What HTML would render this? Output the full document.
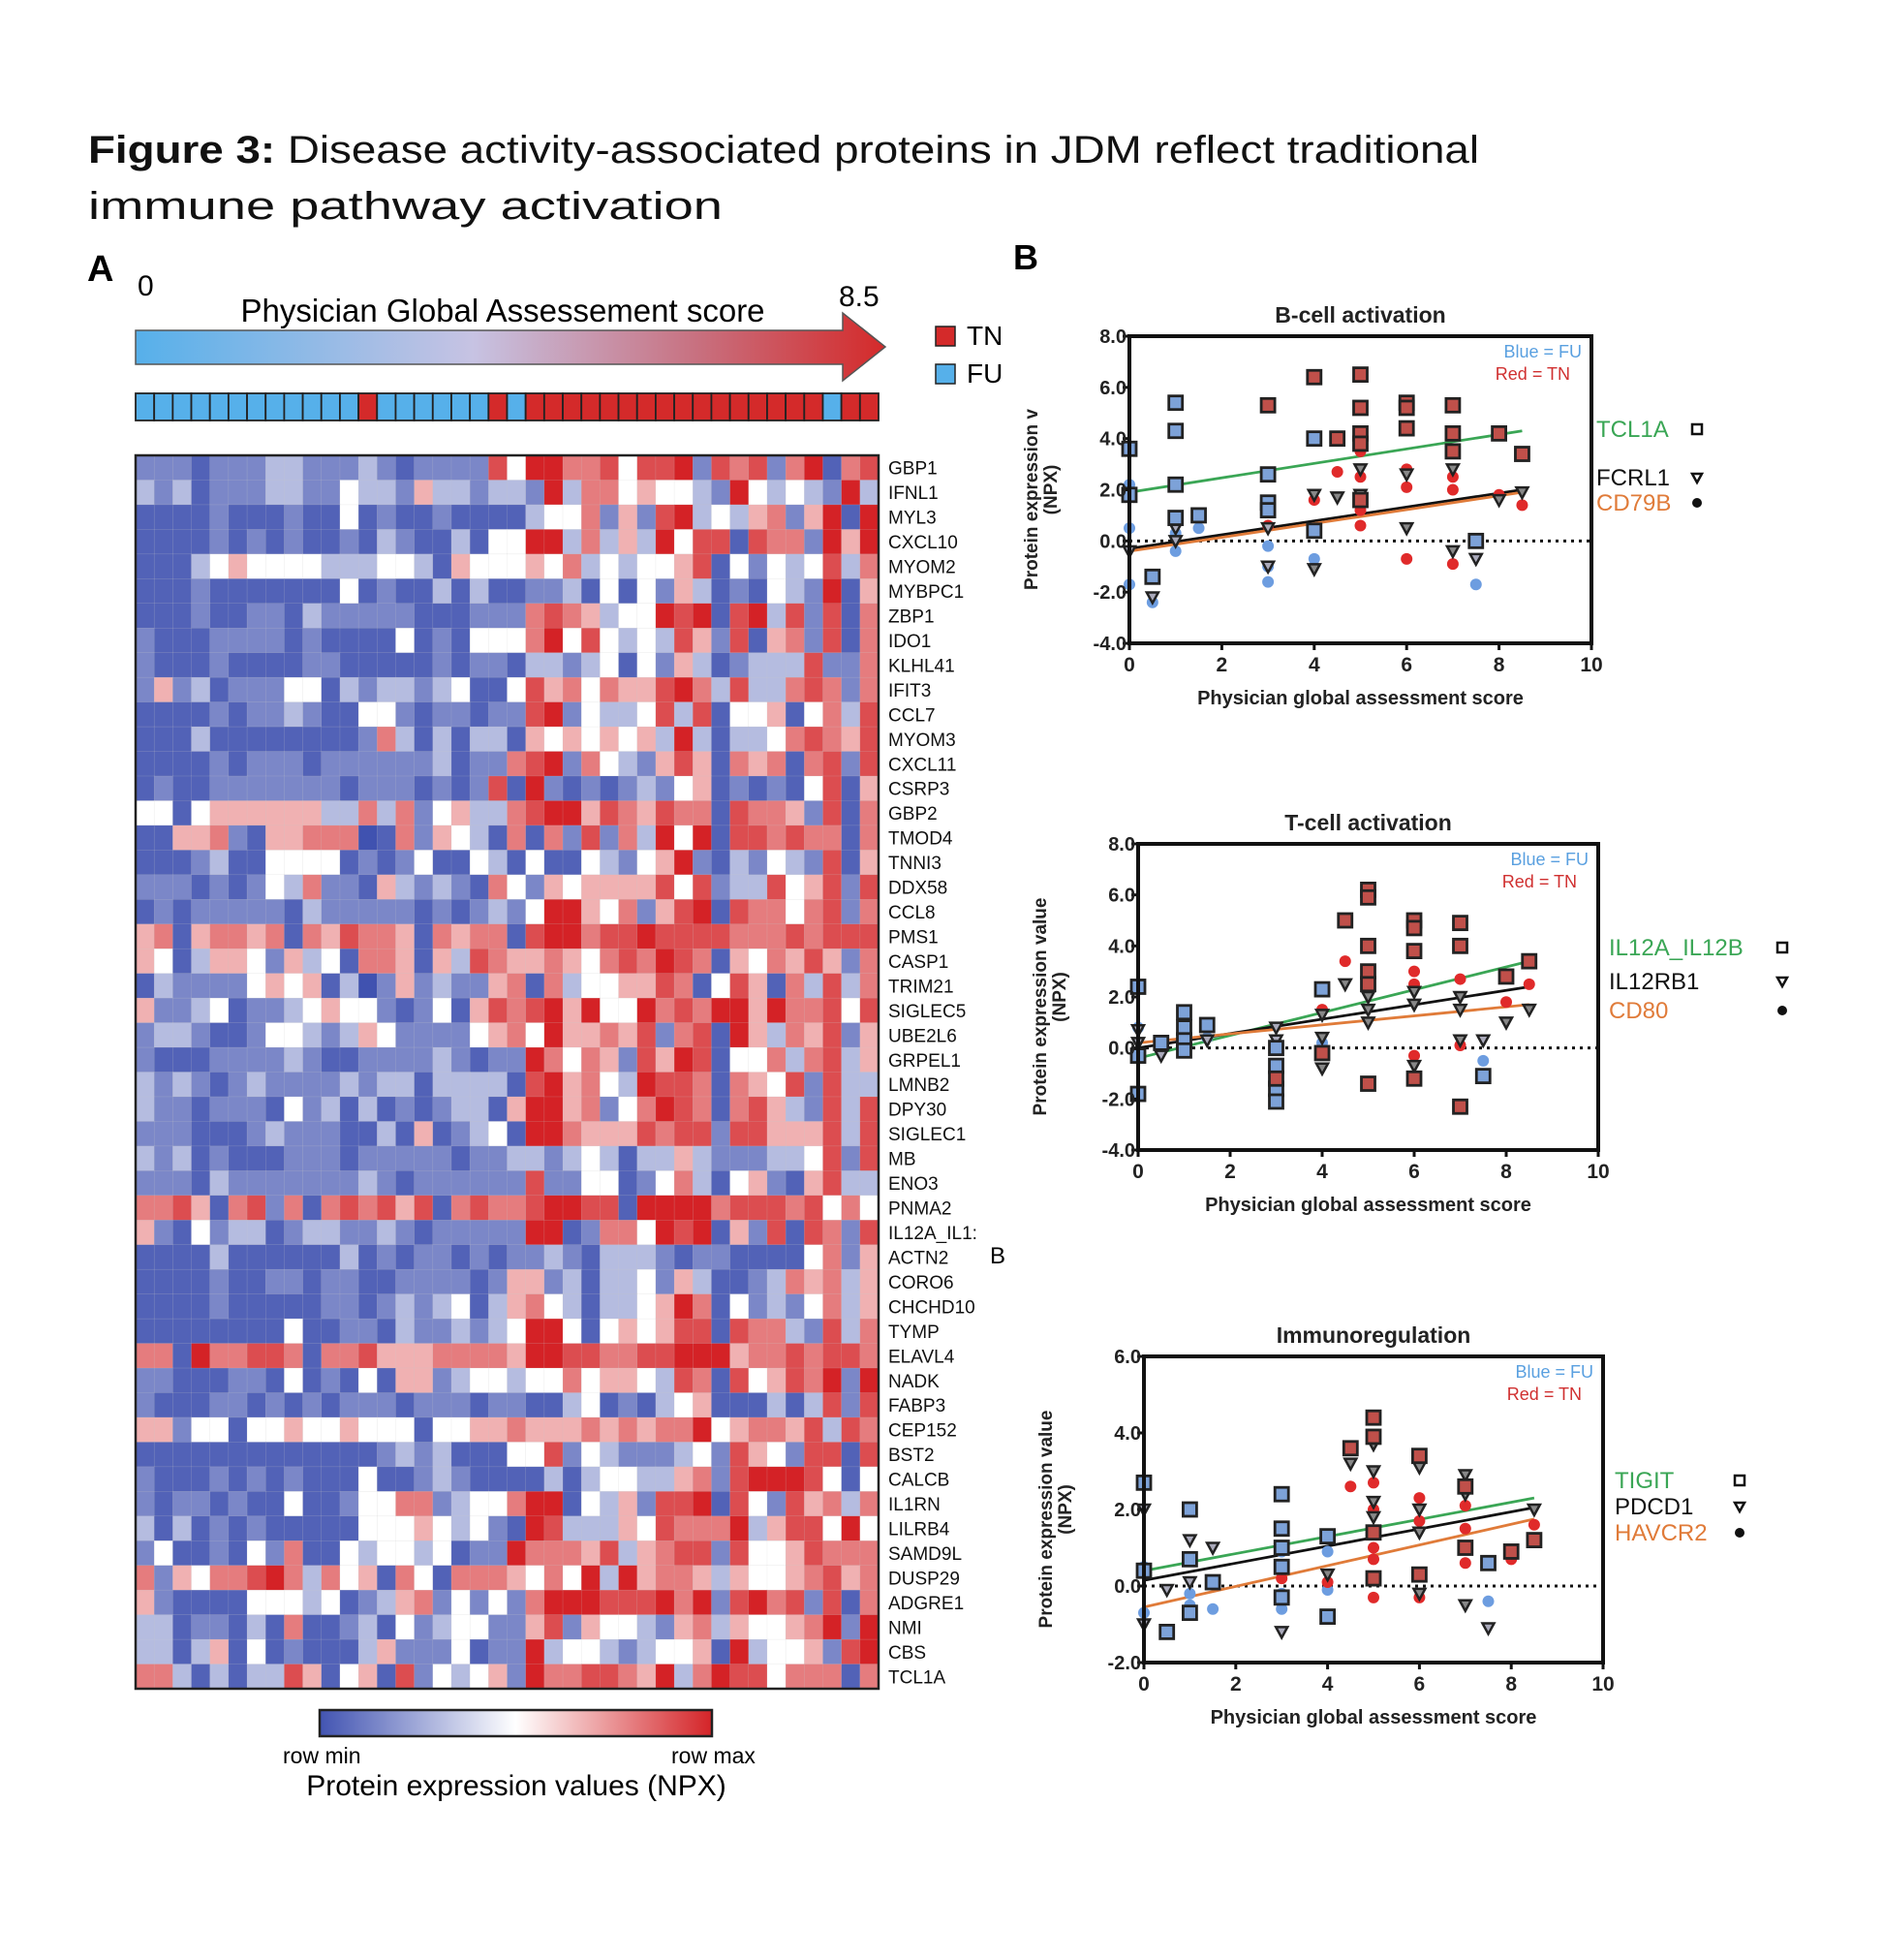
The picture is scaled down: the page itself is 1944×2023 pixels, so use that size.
<!DOCTYPE html>
<html><head><meta charset="utf-8"><style>
html,body{margin:0;padding:0;background:#fff;}
svg{display:block;font-family:"Liberation Sans",sans-serif;}
</style></head><body>
<svg id="fig" width="1944" height="2023" viewBox="0 0 1944 2023" xmlns="http://www.w3.org/2000/svg">
<defs>
<linearGradient id="arrowGrad" x1="0" x2="1" y1="0" y2="0">
<stop offset="0" stop-color="#56b0ea"/><stop offset="0.45" stop-color="#c7c3e3"/><stop offset="0.75" stop-color="#c8707f"/><stop offset="1" stop-color="#d42a2a"/>
</linearGradient>
<linearGradient id="cbGrad" x1="0" x2="1" y1="0" y2="0">
<stop offset="0" stop-color="#4254b2"/><stop offset="0.5" stop-color="#ffffff"/><stop offset="1" stop-color="#d42428"/>
</linearGradient>
</defs>
<text x="91" y="168" font-size="40" fill="#111" textLength="1436" lengthAdjust="spacingAndGlyphs"><tspan font-weight="bold">Figure 3:</tspan> Disease activity-associated proteins in JDM reflect traditional</text>
<text x="91" y="226" font-size="40" fill="#111" textLength="655" lengthAdjust="spacingAndGlyphs">immune pathway activation</text>
<text x="90" y="290" font-size="38" font-weight="bold">A</text>
<text x="1046" y="278" font-size="36" font-weight="bold">B</text>
<text x="142" y="305" font-size="30">0</text>
<text x="866" y="316" font-size="30">8.5</text>
<text x="519" y="332" font-size="33" text-anchor="middle">Physician Global Assessement score</text>
<polygon points="140,341 870,341 870,323 914,358 870,393 870,376 140,376" fill="url(#arrowGrad)" stroke="#555" stroke-width="1.5"/>
<rect x="966" y="337" width="20" height="20" fill="#d42a2a" stroke="#222" stroke-width="1.5"/>
<text x="998" y="356" font-size="28">TN</text>
<rect x="966" y="376" width="20" height="20" fill="#56b0ea" stroke="#222" stroke-width="1.5"/>
<text x="998" y="395" font-size="28">FU</text>
<g id="statusBar"></g>
<g id="heatmap"></g>
<g id="rowLabels"></g>
<text x="1022" y="1304" font-size="24">B</text>
<rect x="330" y="1765" width="405" height="27" fill="url(#cbGrad)" stroke="#222" stroke-width="2.5"/>
<text x="292" y="1820" font-size="23">row min</text>
<text x="693" y="1820" font-size="23">row max</text>
<text x="533" y="1853" font-size="30" text-anchor="middle">Protein expression values (NPX)</text>
<g id="chartB"></g>
<g id="chartT"></g>
<g id="chartI"></g>
</svg>
<script>
// ---------- Heatmap data ----------
const genes = ["GBP1","IFNL1","MYL3","CXCL10","MYOM2","MYBPC1","ZBP1","IDO1","KLHL41","IFIT3","CCL7","MYOM3","CXCL11","CSRP3","GBP2","TMOD4","TNNI3","DDX58","CCL8","PMS1","CASP1","TRIM21","SIGLEC5","UBE2L6","GRPEL1","LMNB2","DPY30","SIGLEC1","MB","ENO3","PNMA2","IL12A_IL1:","ACTN2","CORO6","CHCHD10","TYMP","ELAVL4","NADK","FABP3","CEP152","BST2","CALCB","IL1RN","LILRB4","SAMD9L","DUSP29","ADGRE1","NMI","CBS","TCL1A"];
const sampleStatus = "FFFFFFFFFFFFTFFFFFFTFTTTTTTTTTTTTTTTTFTT";
const heatRows = [
"2221222332223212222748866747782767268167",
"3231222332243325332332836645443284343283",
"1111211121141211211113446252783435625818",
"1111212121121321131448836353847717662858",
"1113454444333443154445463434457142434736",
"1112111111141211313112231414253121432815",
"1112112213222221112226765344878178372716",
"2111222212111141214446847434375271562716",
"2111211112211111212213323414253123337226",
"2523122244132332341147564655786373367626",
"1111212232114421221227824334737144514637",
"1113111111112631313315454545383133467657",
"1111212221222222312267826432575165616727",
"1211222222212221212718212123245121214715",
"4414555555336362453367885765766176652716",
"1155621556660162543161627263848177676616",
"1112311444412124114314114324582132432715",
"2221212436221532321642545555747233745727",
"1212222213222221212324885462578176646726",
"5615665616576651656617886778777766676777",
"5413554253416651537655654676876154657526",
"1322224545130252322561634455761475163736",
"5223412234544212415767858448676885866747",
"2332112443235422224564855657267185365725",
"2111222232112222321228646527587144636735",
"3232123222232331333317856438776165472733",
"3221222142313121233158856246876167532737",
"2221112322211315123418865557677277555737",
"3231211122212222212233234313353222334727",
"2221322222223212222227224412463145215733",
"6675167261676757167667887718888677767464",
"5214233123322321222228812664878152717627",
"1111311111131212212122321333212211114625",
"1111211221221122221255231334253112365635",
"1111211111221232341356431334586142324635",
"1111111141122132232348841454577176632736",
"6618667761667555666658877667788856676776",
"2211122141214155234434464554376174576828",
"2111221212122212221221134121345111313727",
"5524414454454441445565556565668456657376",
"1111111111111232311144724322234275427717",
"2111212121114112321111313443356278887414",
"2122121141124466234468814352778174275636",
"3131212111114445434218733354766683577484",
"2411214261143443412286665735677274457666",
"6254667863645164166654648385665354456756",
"5211114443412356242426888777868278672716",
"3312213161123142344225725443256354456828",
"3313514121113522241228344323445183445278",
"6631313375145172434528667765836877466616"
];
const NS = "http://www.w3.org/2000/svg";
function mk(tag, attrs, parent){const e=document.createElementNS(NS,tag);for(const k in attrs)e.setAttribute(k,attrs[k]);parent.appendChild(e);return e;}
const HX0=140, HX1=907, HY0=470, HY1=1743, NC=40;
const cw=(HX1-HX0)/NC, rh=(HY1-HY0)/genes.length;
function heatColor(v){
  const lo=[64,82,176], mid=[255,255,255], hi=[212,34,38];
  let a,b,t; if(v<=4){a=lo;b=mid;t=Math.pow(v/4,1.7);} else {a=mid;b=hi;t=Math.pow((v-4)/4,0.75);}
  return "rgb("+a.map((c,i)=>Math.round(c+(b[i]-c)*t)).join(",")+")";
}
const hm=document.getElementById("heatmap");
heatRows.forEach((row,r)=>{
  for(let c=0;c<NC;c++){
    const v=parseInt(row[c]||"2");
    const cell=mk("rect",{x:HX0+c*cw,y:HY0+r*rh,width:cw+0.3,height:rh+0.3,fill:heatColor(v),stroke:"rgba(200,200,200,0.35)","stroke-width":0.5},hm);
    
    
  }
});
const frame=mk("rect",{x:HX0,y:HY0,width:HX1-HX0,height:HY1-HY0,fill:"none",stroke:"#222","stroke-width":2.5},hm);


const rl=document.getElementById("rowLabels");
genes.forEach((g,r)=>{
  const t=mk("text",{x:917,y:HY0+(r+0.5)*rh+7,"font-size":19,fill:"#111"},rl);
  t.textContent=g;
  
  
});
const sb=document.getElementById("statusBar");
for(let c=0;c<NC;c++){
  const s=mk("rect",{x:HX0+c*cw,y:406,width:cw,height:28,fill:sampleStatus[c]==="T"?"#d42a2a":"#56b0ea",stroke:"#222","stroke-width":1.8},sb);
  
  
}

// ---------- Scatter chart data ----------
// each point: [score, value, group] group 0=FU(blue),1=TN(red)
const bSquares=[[0,3.6,0],[0,1.8,0],[0.5,-1.4,0],[1,5.4,0],[1,4.3,0],[1,2.2,0],[1,0.9,0],[1.5,1.0,0],[3,2.6,0],[3,1.5,0],[3,1.2,0],[4,4.0,0],[4,0.4,0],[7.5,0.0,0],[3,5.3,1],[4,6.4,1],[4.5,4.0,1],[5,6.5,1],[5,5.2,1],[5,4.2,1],[5,3.8,1],[5,1.6,1],[6,5.4,1],[6,5.2,1],[6,4.4,1],[7,5.3,1],[7,4.2,1],[7,3.5,1],[8,4.2,1],[8.5,3.4,1]];
const bTriangles=[[0,-0.4,0],[0.5,-2.2,0],[1,0.5,0],[1,0,0],[3,-1.0,0],[3,0.5,0],[4,1.8,1],[4,-1.1,1],[4.5,1.7,1],[5,2.8,1],[5,1.8,1],[6,2.6,1],[6,0.5,1],[7,2.8,1],[7,-0.4,1],[7.5,-0.7,0],[8,1.6,1],[8.5,1.9,1]];
const bCircles=[[0,2.2,0],[0,0.5,0],[0,-1.7,0],[0.5,-2.4,0],[1,0.3,0],[1,-0.4,0],[1.5,0.5,0],[3,-0.2,0],[3,-1.0,0],[3,-1.6,0],[4,-0.7,0],[7.5,-1.7,0],[3,0.6,1],[4,1.6,1],[4.5,2.7,1],[5,3.5,1],[5,2.5,1],[5,1.2,1],[5,0.6,1],[6,2.8,1],[6,2.1,1],[6,-0.7,1],[7,2.5,1],[7,2.0,1],[7,-0.9,1],[8,1.8,1],[8.5,1.4,1]];
const bFits=[[1.9,4.3],[-0.3,2.0],[-0.4,1.9]]; // [value at 0, value at 8.5]

const tSquares=[[0,2.4,0],[0,-0.3,0],[0,-1.8,0],[0.5,0.2,0],[1,1.4,0],[1,0.8,0],[1,0.3,0],[1,-0.1,0],[1.5,0.9,0],[3,0,0],[3,-0.7,0],[3,-1.6,0],[3,-2.1,0],[4,2.3,0],[7.5,-1.1,0],[3,-1.2,1],[4,-0.2,1],[4.5,5.0,1],[5,6.2,1],[5,5.9,1],[5,4.0,1],[5,3.0,1],[5,2.5,1],[5,-1.4,1],[6,5.0,1],[6,4.7,1],[6,3.8,1],[6,-1.2,1],[7,4.9,1],[7,4.0,1],[7,-2.3,1],[8,2.8,1],[8.5,3.4,1]];
const tTriangles=[[0,0.7,0],[0,0.2,0],[0.5,-0.3,0],[1,0.5,0],[1,0,0],[1.5,0.3,0],[3,0.8,0],[3,0.3,0],[4,1.3,1],[4,0.4,1],[4,-0.8,1],[4.5,2.5,1],[5,2.0,1],[5,1.5,1],[5,1.0,1],[6,2.2,1],[6,1.7,1],[6,-0.7,1],[7,2.0,1],[7,1.5,1],[7,0.3,1],[7.5,0.3,0],[8,1.0,1],[8.5,1.5,1]];
const tCircles=[[0,0.8,0],[0,-0.3,0],[1,0.3,0],[1.5,0.4,0],[4,0.2,0],[7.5,-0.5,0],[4,1.5,1],[4.5,3.4,1],[5,2.8,1],[5,2.2,1],[6,3.0,1],[6,2.5,1],[6,-0.3,1],[7,2.7,1],[7,0.1,1],[8,1.8,1],[8.5,2.5,1]];
const tFits=[[-0.4,3.4],[0,2.4],[0.2,1.7]];

const iSquares=[[0,2.7,0],[0,0.4,0],[0.5,-1.2,0],[1,2.0,0],[1,0.7,0],[1,-0.7,0],[1.5,0.1,0],[3,2.4,0],[3,1.5,0],[3,1.0,0],[3,0.5,0],[3,-0.3,0],[4,1.3,0],[4,-0.8,0],[7.5,0.6,0],[4.5,3.6,1],[5,4.4,1],[5,3.9,1],[5,1.4,1],[5,0.2,1],[6,3.4,1],[6,0.3,1],[7,2.6,1],[7,1.0,1],[8,0.9,1],[8.5,1.2,1]];
const iTriangles=[[0,2.0,0],[0,-1.0,0],[0.5,-0.1,0],[1,1.2,0],[1,0.1,0],[1.5,1.0,0],[3,0.5,0],[3,-1.2,0],[4,0.3,1],[4.5,3.2,1],[5,3.7,1],[5,3.0,1],[5,2.2,1],[5,1.8,1],[6,3.1,1],[6,2.0,1],[6,1.4,1],[6,-0.2,1],[7,2.9,1],[7,2.4,1],[7,-0.5,1],[7.5,-1.1,0],[8,0.9,1],[8.5,2.0,1]];
const iCircles=[[0,0.5,0],[0,-0.7,0],[1,-0.2,0],[1,-0.5,0],[1.5,-0.6,0],[3,0.9,0],[3,-0.2,0],[3,-0.6,0],[4,0.9,0],[4,-0.1,0],[7.5,-0.4,0],[3,0.2,1],[4,0.1,1],[4.5,2.6,1],[5,2.7,1],[5,2.0,1],[5,1.0,1],[5,0.7,1],[5,-0.3,1],[6,2.3,1],[6,1.7,1],[6,-0.3,1],[7,2.1,1],[7,1.5,1],[7,0.6,1],[8,0.7,1],[8.5,1.6,1]];
const iFits=[[0.4,2.3],[0.15,2.05],[-0.55,1.75]];

const xTicks=[0,2,4,6,8,10];
const yTicksB=[-4,-2,0,2,4,6,8];
const yTicksT=[-4,-2,0,2,4,6,8];
const yTicksI=[-2,0,2,4,6];

function drawChart(g, cfg){
  const sx=v=>cfg.x0+(cfg.x1-cfg.x0)*(v-0)/10;
  const sy=v=>cfg.y1-(cfg.y1-cfg.y0)*(v-cfg.ymin)/(cfg.ymax-cfg.ymin);
  const t=mk("text",{x:(cfg.x0+cfg.x1)/2,y:cfg.y0-14,"font-size":23,"font-weight":"bold","text-anchor":"middle",fill:"#222"},g);
  t.textContent=cfg.title;  
  const zl=mk("line",{x1:sx(0),x2:cfg.x1,y1:sy(0),y2:sy(0),stroke:"#111","stroke-width":3,"stroke-dasharray":"3,5"},g);
   
  const fitColors=["#3aa655","#111","#e07b39"];
  cfg.fits.forEach((f,i)=>{
    const l=mk("line",{x1:sx(0),x2:sx(8.5),y1:sy(f[0]),y2:sy(f[1]),stroke:fitColors[i],"stroke-width":2.8},g);
     
  });
  cfg.circles.forEach(p=>{
    const c=mk("circle",{cx:sx(p[0]),cy:sy(p[1]),r:6,fill:p[2]?"#e02a2a":"#6d9de0"},g);
     
  });
  cfg.triangles.forEach(p=>{
    const x=sx(p[0]),y=sy(p[1]);
    const tr=mk("polygon",{points:(x-6)+","+(y-5)+" "+(x+6)+","+(y-5)+" "+x+","+(y+6),fill:p[2]?"#888":"#aab",stroke:"#222","stroke-width":2.5},g);
     
  });
  cfg.squares.forEach(p=>{
    const sq=mk("rect",{x:sx(p[0])-7,y:sy(p[1])-7,width:14,height:14,fill:p[2]?"#c0504a":"#7da2d8",stroke:"#222","stroke-width":2.8},g);
     
  });
  const fr=mk("rect",{x:cfg.x0,y:cfg.y0,width:cfg.x1-cfg.x0,height:cfg.y1-cfg.y0,fill:"none",stroke:"#111","stroke-width":4},g);
   
  cfg.yticks.forEach(v=>{
    const tk=mk("line",{x1:cfg.x0-7,x2:cfg.x0,y1:sy(v),y2:sy(v),stroke:"#111","stroke-width":3},g);
     
    const tl=mk("text",{x:cfg.x0-3,y:sy(v)+7,"font-size":20,"font-weight":"bold","text-anchor":"end",fill:"#222"},g);
    tl.textContent=v.toFixed(1);  
  });
  xTicks.forEach(v=>{
    const tk=mk("line",{x1:sx(v),x2:sx(v),y1:cfg.y1,y2:cfg.y1+7,stroke:"#111","stroke-width":3},g);
     
    const tl=mk("text",{x:sx(v),y:cfg.y1+29,"font-size":21,"font-weight":"bold","text-anchor":"middle",fill:"#222"},g);
    tl.textContent=String(v);  
  });
  const xl=mk("text",{x:(cfg.x0+cfg.x1)/2,y:cfg.y1+63,"font-size":20,"font-weight":"bold","text-anchor":"middle",fill:"#222"},g);
  xl.textContent="Physician global assessment score";  
  const cy=(cfg.y0+cfg.y1)/2+10;
  const yl=mk("text",{x:0,y:0,"font-size":19,"font-weight":"bold","text-anchor":"middle",fill:"#222",transform:"translate("+(cfg.x0-95)+","+cy+") rotate(-90)"},g);
  yl.textContent=cfg.ylabel;  
  const yl2=mk("text",{x:0,y:0,"font-size":19,"font-weight":"bold","text-anchor":"middle",fill:"#222",transform:"translate("+(cfg.x0-75)+","+(cy-10)+") rotate(-90)"},g);
  yl2.textContent="(NPX)";  
  const b1=mk("text",{x:cfg.x1-10,y:cfg.y0+22,"font-size":18,"text-anchor":"end",fill:"#5aa0e0"},g);
  b1.textContent="Blue = FU";  
  const b2=mk("text",{x:cfg.x1-22,y:cfg.y0+45,"font-size":18,"text-anchor":"end",fill:"#d03030"},g);
  b2.textContent="Red = TN";  
  cfg.legend.forEach((lg,i)=>{
    const lt=mk("text",{x:cfg.lx,y:lg[1],"font-size":24,fill:fitColors[i]},g);
    lt.textContent=lg[0];  
    const symX=cfg.sx, symY=lg[1]-8;
    let s;
    if(i===0) s=mk("rect",{x:symX-5,y:symY-5,width:10,height:10,fill:"#fff",stroke:"#111","stroke-width":2.5},g);
    else if(i===1) s=mk("polygon",{points:(symX-5)+","+(symY-4)+" "+(symX+5)+","+(symY-4)+" "+symX+","+(symY+5),fill:"#fff",stroke:"#111","stroke-width":2.5},g);
    else s=mk("circle",{cx:symX,cy:symY,r:5,fill:"#111"},g);
     
  });
}
drawChart(document.getElementById("chartB"),{title:"B-cell activation",x0:1166,x1:1643,y0:347,y1:664,ymin:-4,ymax:8,yticks:yTicksB,squares:bSquares,triangles:bTriangles,circles:bCircles,fits:bFits,ylabel:"Protein expression v",lx:1648,sx:1752,legend:[["TCL1A",451],["FCRL1",501],["CD79B",527]]});
drawChart(document.getElementById("chartT"),{title:"T-cell activation",x0:1175,x1:1650,y0:871,y1:1187,ymin:-4,ymax:8,yticks:yTicksT,squares:tSquares,triangles:tTriangles,circles:tCircles,fits:tFits,ylabel:"Protein expression value",lx:1661,sx:1840,legend:[["IL12A_IL12B",986],["IL12RB1",1021],["CD80",1051]]});
drawChart(document.getElementById("chartI"),{title:"Immunoregulation",x0:1181,x1:1655,y0:1400,y1:1716,ymin:-2,ymax:6,yticks:yTicksI,squares:iSquares,triangles:iTriangles,circles:iCircles,fits:iFits,ylabel:"Protein expression value",lx:1667,sx:1796,legend:[["TIGIT",1536],["PDCD1",1563],["HAVCR2",1590]]});
</script>
</body></html>
